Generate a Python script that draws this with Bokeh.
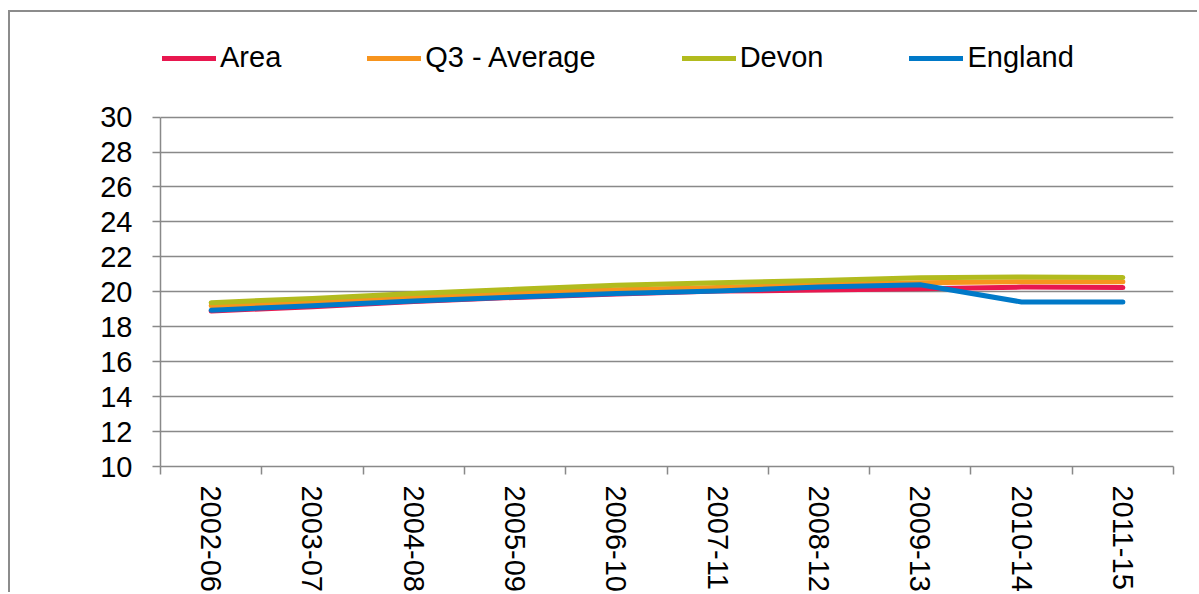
from bokeh.plotting import figure
from bokeh.models import Range1d, FixedTicker, Legend, LegendItem, ColumnDataSource
from bokeh.embed import file_html
from bokeh.resources import INLINE

categories = ["2002-06", "2003-07", "2004-08", "2005-09", "2006-10",
              "2007-11", "2008-12", "2009-13", "2010-14", "2011-15"]
area = [18.9, 19.15, 19.45, 19.68, 19.88, 20.04, 20.1, 20.18, 20.27, 20.24]
q3_average = [19.2, 19.4, 19.68, 19.92, 20.12, 20.25, 20.43, 20.52, 20.58, 20.58]
devon = [19.38, 19.62, 19.9, 20.14, 20.38, 20.52, 20.65, 20.8, 20.85, 20.82]
england = [18.95, 19.2, 19.48, 19.7, 19.9, 20.05, 20.27, 20.4, 19.42, 19.42]
y_ticks = [10, 12, 14, 16, 18, 20, 22, 24, 26, 28, 30]

series = [("Area", area, "#E8174F"),
          ("Q3 - Average", q3_average, "#F7941D"),
          ("Devon", devon, "#B2BB1E"),
          ("England", england, "#0079C8")]

FONT = "Liberation Sans"
GREY = "#898989"

n = len(categories)
xpos = [i + 0.5 for i in range(n)]

# frame extends above the value area so the legend sits inside it
p = figure(width=1189, height=582,
           x_range=Range1d(0, n), y_range=Range1d(10, 34.672),
           output_backend="svg", toolbar_location=None,
           min_border_left=150, min_border_right=26,
           min_border_top=23, min_border_bottom=126)
p.styles = {"border-left": "2px solid #8c8c8c", "border-top": "2px solid #8c8c8c",
            "margin-top": "10px", "margin-left": "8px"}
p.outline_line_color = None
p.background_fill_color = "white"
p.border_fill_color = "white"

# y axis
p.yaxis.ticker = FixedTicker(ticks=y_ticks)
p.yaxis.bounds = (10, 30)
p.yaxis.axis_line_color = GREY
p.yaxis.axis_line_width = 1.5
p.yaxis.major_tick_line_color = GREY
p.yaxis.major_tick_line_width = 1.5
p.yaxis.major_tick_out = 8
p.yaxis.major_tick_in = 0
p.yaxis.minor_tick_line_color = None
p.yaxis.major_label_text_font = FONT
p.yaxis.major_label_text_font_size = "29px"
p.yaxis.major_label_text_color = "black"
p.yaxis.major_label_standoff = 20

# x axis
p.xaxis.ticker = FixedTicker(ticks=xpos, minor_ticks=list(range(n + 1)))
p.xaxis.major_label_overrides = {x: c for x, c in zip(xpos, categories)}
p.xaxis.major_label_orientation = "vertical"
p.xaxis.axis_line_color = GREY
p.xaxis.axis_line_width = 1.5
p.xaxis.major_tick_line_color = None
p.xaxis.major_tick_out = 0
p.xaxis.major_tick_in = 0
p.xaxis.minor_tick_line_color = GREY
p.xaxis.minor_tick_line_width = 1.5
p.xaxis.minor_tick_out = 8
p.xaxis.minor_tick_in = 0
p.xaxis.major_label_text_font = FONT
p.xaxis.major_label_text_font_size = "29px"
p.xaxis.major_label_text_color = "black"
p.xaxis.major_label_standoff = 11

p.xgrid.grid_line_color = None
p.ygrid.ticker = FixedTicker(ticks=y_ticks)
p.ygrid.grid_line_color = GREY
p.ygrid.grid_line_width = 1.5

items = []
for name, vals, color in series:
    src = ColumnDataSource(dict(x=xpos, y=vals))
    r = p.line("x", "y", source=src, line_color=color, line_width=5,
               line_cap="round", line_join="round")
    items.append(LegendItem(label=name, renderers=[r]))

legend = Legend(items=items, orientation="horizontal", location=(2, 392),
                spacing=86, glyph_width=54, glyph_height=20, label_standoff=4,
                padding=0, margin=0, border_line_color=None,
                background_fill_alpha=0,
                label_text_font=FONT, label_text_font_size="29px",
                label_text_color="black")
p.add_layout(legend)

open("out.html", "w").write(file_html(p, INLINE))
